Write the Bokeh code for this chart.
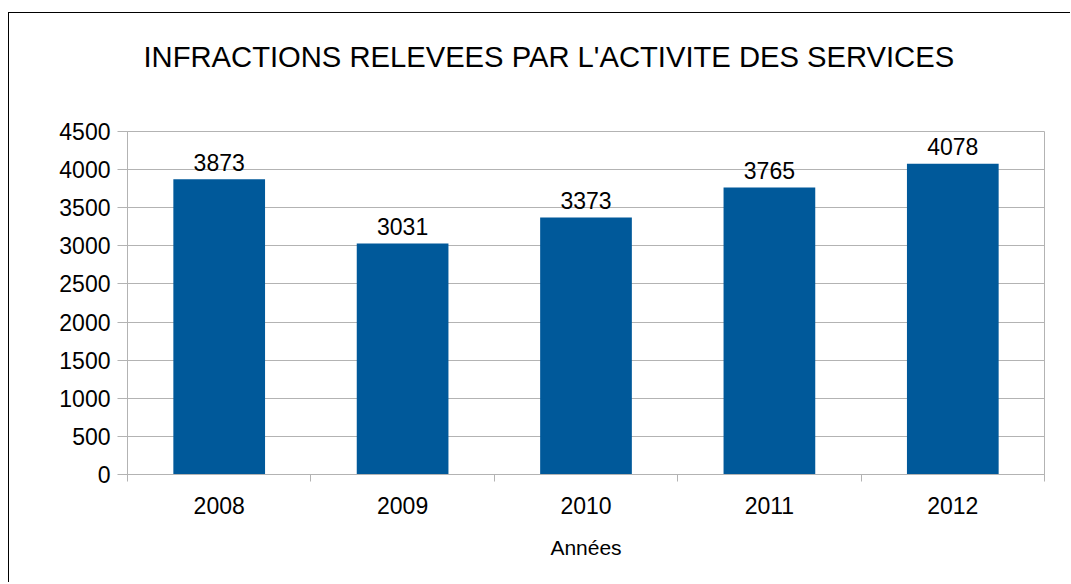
from bokeh.plotting import figure
from bokeh.models import ColumnDataSource, FixedTicker, Range1d, Title, LinearAxis
from bokeh.embed import file_html
from bokeh.resources import INLINE
from bokeh.core.properties import value

years = ["2008", "2009", "2010", "2011", "2012"]
counts = [3873, 3031, 3373, 3765, 4078]
y_ticks = [0, 500, 1000, 1500, 2000, 2500, 3000, 3500, 4000, 4500]
title_text = "INFRACTIONS RELEVEES PAR L'ACTIVITE DES SERVICES"
x_label = "Années"

FONT = "Liberation Sans"
BAR = "#00599a"
GRID = "#b3b3b3"

xs = [i + 0.5 for i in range(len(years))]
src = ColumnDataSource(dict(x=xs, y=counts, lab=[str(c) for c in counts]))

p = figure(width=1062, height=570, output_backend="svg", toolbar_location=None,
           x_range=Range1d(0, len(years)), y_range=Range1d(0, 4500),
           min_border_left=118, min_border_right=27, min_border_top=118, min_border_bottom=109)
p.margin = (12, 0, 0, 8)
p.styles = {"border-style": "solid none none solid", "border-width": "1px", "border-color": "black"}

# invisible spacer axis between the frame and the title
spacer = LinearAxis(ticker=FixedTicker(ticks=xs, minor_ticks=[]), axis_line_color=None,
                    major_tick_line_color=None, minor_tick_line_color=None,
                    major_tick_out=59, major_tick_in=0, major_label_text_alpha=0)
p.add_layout(spacer, "above")
p.add_layout(Title(text=title_text, align="left", offset=16, standoff=0,
                   text_font=FONT, text_font_size="29.2px", text_font_style="normal",
                   text_color="black"), "above")

p.vbar(x="x", top="y", width=0.5, source=src, color=BAR, line_color=None)
p.text(x="x", y="y", text="lab", source=src, text_align="center", text_baseline="alphabetic",
       y_offset=-17, text_font=value(FONT), text_font_size="23px", text_color="black")

xa = p.below[0]
xa.ticker = FixedTicker(ticks=xs, minor_ticks=list(range(len(years) + 1)))
xa.major_label_overrides = {x: y for x, y in zip(xs, years)}
xa.major_tick_out = 0
xa.major_tick_in = 0
xa.minor_tick_out = 7
xa.minor_tick_in = 0
xa.minor_tick_line_color = GRID
xa.axis_line_color = GRID
xa.major_label_standoff = 15
xa.axis_label = x_label
xa.axis_label_standoff = 19
xa.axis_label_text_font = FONT
xa.axis_label_text_font_size = "21px"
xa.axis_label_text_font_style = "normal"
xa.axis_label_text_color = "black"
xa.major_label_text_font = FONT
xa.major_label_text_font_size = "23px"
xa.major_label_text_color = "black"

ya = p.left[0]
ya.ticker = FixedTicker(ticks=y_ticks, minor_ticks=[])
ya.major_tick_out = 10
ya.major_tick_in = 0
ya.major_tick_line_color = GRID
ya.axis_line_color = GRID
ya.major_label_standoff = 7
ya.major_label_text_font = FONT
ya.major_label_text_font_size = "23px"
ya.major_label_text_color = "black"

p.xgrid.grid_line_color = None
p.ygrid.grid_line_color = GRID
p.ygrid.ticker = FixedTicker(ticks=y_ticks)
p.outline_line_color = GRID
p.outline_line_width = 1

open("out.html", "w").write(file_html(p, INLINE))
